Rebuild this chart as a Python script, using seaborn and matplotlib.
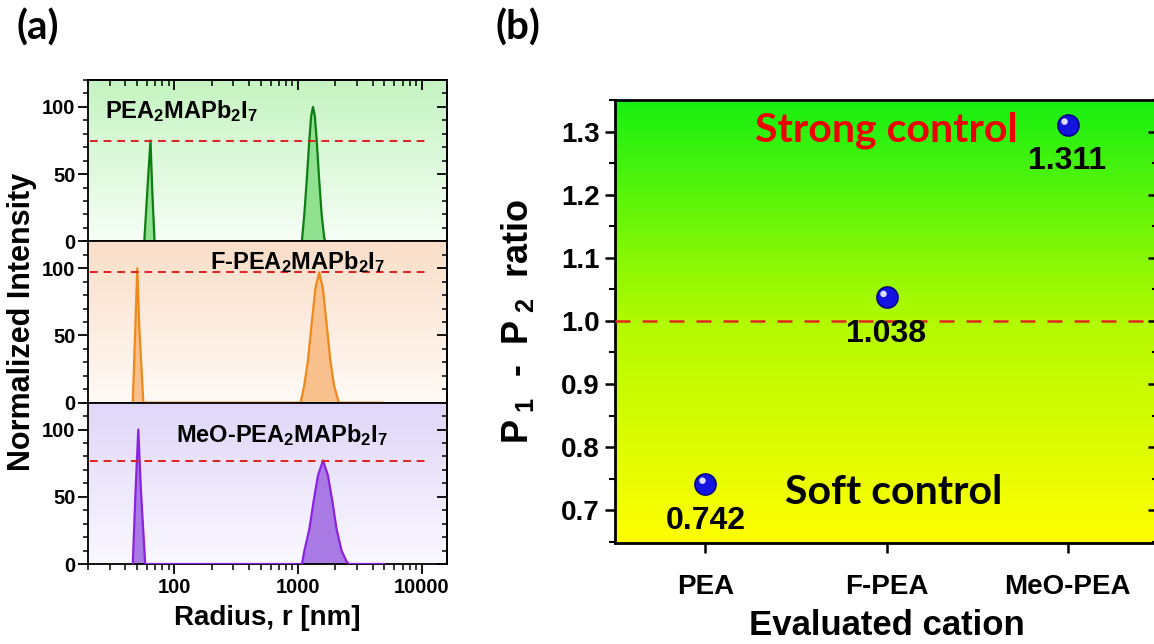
import numpy as np
import pandas as pd
import matplotlib.pyplot as plt
import matplotlib.transforms as mtransforms
from matplotlib.ticker import MultipleLocator, LogLocator, NullFormatter
import seaborn as sns

sns.set_style("ticks")
plt.rcParams['font.family'] = ['Liberation Sans', 'DejaVu Sans']
plt.rcParams['font.weight'] = 'bold'
plt.rcParams['mathtext.fontset'] = 'custom'
plt.rcParams['mathtext.rm'] = 'Liberation Sans:bold'
plt.rcParams['mathtext.bf'] = 'Liberation Sans:bold'
plt.rcParams['mathtext.it'] = 'Liberation Sans:bold'
plt.rcParams['mathtext.default'] = 'bf'
for key in ['text.color', 'axes.labelcolor', 'xtick.color', 'ytick.color',
            'axes.edgecolor']:
    plt.rcParams[key] = 'black'

#%% data (a): DLS size distributions, radius in nm vs normalized intensity

r_pea = [57, 61, 64, 66, 69, 1073, 1123, 1176, 1232, 1275, 1320, 1367, 1415,
         1481, 1551, 1624, 1662, 6300]
i_pea = [0, 45, 75, 40, 0, 0, 20, 46, 75, 93, 100, 93, 75, 46, 20, 3, 0, 0]

r_fpea = [46, 48, 50, 52, 56, 1048, 1123, 1203, 1289, 1381, 1480, 1586, 1699,
          1821, 1951, 2091, 2139, 4840]
i_fpea = [0, 50, 100, 55, 0, 0, 13, 32, 59, 85, 97, 85, 59, 32, 13, 3, 0, 0]

r_meo = [46, 48.5, 51, 53.5, 58, 1075, 1125, 1234, 1337, 1450, 1590, 1743,
         1891, 2048, 2246, 2463, 2579, 5000]
i_meo = [0, 55, 100, 55, 0, 0, 10, 26, 47, 66, 77, 66, 47, 26, 10, 2, 0, 0]

samples = ["PEA$_2$MAPb$_2$I$_7$", "F-PEA$_2$MAPb$_2$I$_7$",
           "MeO-PEA$_2$MAPb$_2$I$_7$"]
thresholds = [75, 97, 77]

#%% data (b): P1-P2 ratio per cation

cations = ["PEA", "F-PEA", "MeO-PEA"]
ratios = [0.742, 1.038, 1.311]

#%% figure

fig = plt.figure(figsize=(11.54, 6.44), dpi=100)


def vgrad(ax, stops, colors):
    # stops/colors listed from top (0) to bottom (1)
    t = np.linspace(0, 1, 256)
    cols = np.array(colors) / 255.0
    img = np.stack([np.interp(t, stops, cols[:, c]) for c in range(3)], axis=-1)
    ax.imshow(img[:, None, :], extent=[0, 1, 0, 1], transform=ax.transAxes,
              aspect='auto', zorder=0, interpolation='bilinear')


series = [(r_pea, i_pea), (r_fpea, i_fpea), (r_meo, i_meo)]
line_cols = ['#0e7d14', '#f0891c', '#8a22e0']
fill_cols = ['#8fe08f', '#f8c08c', '#a97ae3']
bg_cols = [[(196, 244, 192), (246, 254, 246)],
           [(250, 222, 200), (255, 250, 246)],
           [(224, 214, 248), (250, 248, 255)]]
label_pos = [(0.047, 0.81, 'left'), (0.585, 0.87, 'center'), (0.54, 0.80, 'center')]

h = 0.2505
for k in range(3):
    ax = fig.add_axes([0.0763, 0.1242 + (2 - k) * h, 0.311, h])
    ax.set_xscale('log')
    vgrad(ax, [0, 1], bg_cols[k])
    r, inten = series[k]
    ax.fill_between(r, inten, 0, color=fill_cols[k], lw=0, zorder=2)
    sns.lineplot(x=r, y=inten, ax=ax, color=line_cols[k], lw=1.6,
                 estimator=None, sort=False, zorder=3)
    ax.axhline(thresholds[k], xmin=0.005, xmax=0.95, color='#e02020',
               lw=1.4, ls=(0, (4, 3)), zorder=4)
    x0, y0, ha = label_pos[k]
    ax.text(x0, y0, samples[k], transform=ax.transAxes, ha=ha, va='center',
            fontsize=17, fontweight='bold', zorder=5)
    ax.set_xlim(20, 16000)
    ax.set_ylim(0, 120)
    ax.set_yticks([0, 50, 100])
    ax.yaxis.set_minor_locator(MultipleLocator(10))
    ax.tick_params(axis='y', which='major', direction='out', length=7,
                   width=1.3, labelsize=14.5, pad=2)
    ax.tick_params(axis='y', which='minor', direction='out', length=3.5,
                   width=1.1)
    for s in ax.spines.values():
        s.set_linewidth(1.3)
    ax.set_xlabel("")
    ax.set_ylabel("")
    sec = ax.secondary_yaxis('right')
    sec.set_yticks([0, 50, 100])
    sec.yaxis.set_minor_locator(MultipleLocator(10))
    sec.tick_params(axis='y', which='major', direction='in', length=7,
                    width=1.3, labelright=False)
    sec.tick_params(axis='y', which='minor', direction='in', length=3.5,
                    width=1.1)
    sec.spines['right'].set_linewidth(1.3)
    if k < 2:
        ax.tick_params(axis='x', which='both', bottom=False, labelbottom=False)
    else:
        ax.set_xticks([100, 1000, 10000])
        ax.set_xticklabels(["100", "1000", "10000"])
        ax.xaxis.set_minor_locator(LogLocator(base=10, subs=np.arange(2, 10), numticks=20))
        ax.xaxis.set_minor_formatter(NullFormatter())
        ax.set_xlim(20, 16000)
        ax.tick_params(axis='x', which='major', direction='out', length=7,
                       width=1.3, labelsize=14.5, pad=3)
        ax.tick_params(axis='x', which='minor', direction='out', length=4,
                       width=1.1)
        ax.set_xlabel("Radius, r [nm]", fontsize=20, fontweight='bold', labelpad=6)
    if k == 0:
        top = ax.secondary_xaxis('top')
        top.set_xticks([100, 1000, 10000])
        top.xaxis.set_minor_locator(LogLocator(base=10, subs=np.arange(2, 10), numticks=20))
        top.xaxis.set_minor_formatter(NullFormatter())
        top.tick_params(axis='x', which='major', direction='in', length=7,
                        width=1.3, labeltop=False)
        top.tick_params(axis='x', which='minor', direction='in', length=4,
                        width=1.1)
        top.spines['top'].set_linewidth(1.3)

fig.text(0.019, 1 - 322 / 644, "Normalized Intensity", rotation=90,
         ha='center', va='center', fontsize=22, fontweight='bold')

#%% panel (b)

ax_b = fig.add_axes([0.5329, 0.1568, 0.4706, 0.6879])
vgrad(ax_b, [0, 0.5, 1], [(22, 240, 18), (178, 250, 0), (255, 255, 0)])

df_b = pd.DataFrame({"cation": cations, "ratio": ratios})
sns.scatterplot(data=df_b, x="cation", y="ratio", ax=ax_b, s=230,
                color='#1414e0', edgecolor='#00008c', linewidth=1.2, zorder=5)
hl = mtransforms.offset_copy(ax_b.transData, fig=fig, x=-3, y=3, units='dots')
ax_b.scatter(cations, ratios, s=22, color='#dcdcff', edgecolors='none',
             transform=hl, zorder=6)

for c, v in zip(cations, ratios):
    ax_b.annotate(f"{v:.3f}", (c, v), xytext=(0, -26.5), textcoords='offset points',
                  ha='center', va='center', fontsize=23, fontweight='bold', zorder=7)

ax_b.axhline(1.0, color='#e0281e', lw=1.8, ls=(0, (6, 4.8)), zorder=3)

ax_b.text(1.0, 1.302, "Strong control", ha='center', va='center', color='#ee0000',
          fontsize=29.5, fontweight='bold', family=['Lato', 'DejaVu Sans'], zorder=6)
ax_b.text(1.04, 0.728, "Soft control", ha='center', va='center', color='black',
          fontsize=29.5, fontweight='bold', family=['Lato', 'DejaVu Sans'], zorder=6)

ax_b.set_xlim(-0.5, 2.5)
ax_b.set_ylim(0.648, 1.35)
ax_b.yaxis.set_major_locator(MultipleLocator(0.1))
ax_b.yaxis.set_minor_locator(MultipleLocator(0.05))
ax_b.tick_params(axis='y', which='major', direction='out', length=7, width=1.8,
                 labelsize=20, pad=4)
ax_b.tick_params(axis='y', which='minor', direction='out', length=4, width=1.5)
ax_b.tick_params(axis='x', which='major', direction='out', length=7, width=1.8,
                 labelsize=20, pad=15)
for s in ax_b.spines.values():
    s.set_linewidth(2)
ax_b.set_xlabel("Evaluated cation", fontsize=25, fontweight='bold', labelpad=7)
ax_b.set_ylabel(r"P$_{\ 1}$  -  P$_{\ 2}$  ratio", fontsize=26, fontweight='bold',
                labelpad=18)
secb = ax_b.secondary_yaxis('right')
secb.yaxis.set_major_locator(MultipleLocator(0.1))
secb.yaxis.set_minor_locator(MultipleLocator(0.05))
secb.tick_params(axis='y', which='major', direction='in', length=7, width=1.8,
                 labelright=False)
secb.tick_params(axis='y', which='minor', direction='in', length=4, width=1.5)

fig.text(0.014, 1 - 28 / 644, "(a)", ha='left', va='center', fontsize=29,
         fontweight='bold', family=['Lato', 'DejaVu Sans'])
fig.text(0.429, 1 - 28 / 644, "(b)", ha='left', va='center', fontsize=29,
         fontweight='bold', family=['Lato', 'DejaVu Sans'])

fig.savefig("out.png", dpi=100)
